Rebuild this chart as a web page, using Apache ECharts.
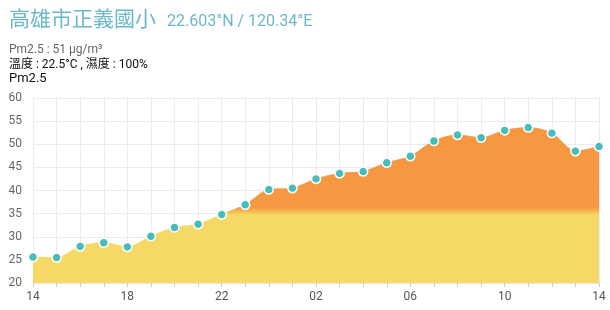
<!DOCTYPE html>
<html><head><meta charset="utf-8">
<script src="https://cdn.jsdelivr.net/npm/echarts@6/dist/echarts.min.js"></script>
<style>html,body{margin:0;padding:0;background:#fff}#c{width:610px;height:310px}</style>
</head><body><div id="c"></div>
<script>
const hours = ['14','15','16','17','18','19','20','21','22','23','00','01','02','03','04','05','06','07','08','09','10','11','12','13','14'];
const pm25 = [25.6,25.5,27.9,28.7,27.8,30.1,32.0,32.7,34.8,36.9,40.2,40.5,42.5,43.7,44.1,46.0,47.4,50.7,52.0,51.4,53.0,53.6,52.4,48.5,49.5];
const yTicks = {min:20, max:60, interval:5};
const stationName = '高雄市正義國小';
const coordText = '22.603°N / 120.34°E';
const info1 = 'Pm2.5 : 51 μg/m³';
const info2 = '溫度 : 22.5°C , 濕度 : 100%';
const threshold = 35.5;

const font = 'Roboto, "Noto Sans CJK TC", sans-serif';
const chart = echarts.init(document.getElementById('c'), null, {renderer:'canvas'});
const option = {
  animation:false,
  textStyle:{fontFamily:font},
  title:[
    {text:stationName, left:4, top:5, textStyle:{color:'#6cb8c9', fontSize:21, fontWeight:'normal', fontFamily:font}},
    {text:coordText, left:162, top:9, textStyle:{color:'#6cb8c9', fontSize:16, fontWeight:'normal', fontFamily:font}},
    {text:info1, left:4, top:39, textStyle:{color:'#666', fontSize:12, fontWeight:'normal', fontFamily:font}},
    {text:info2, left:4, top:54, textStyle:{color:'#111', fontSize:12, fontWeight:'normal', fontFamily:font}},
  ],
  grid:{left:33, right:11, top:98, bottom:27},
  xAxis:{type:'category', data:hours, boundaryGap:false,
    axisLine:{show:false},
    axisTick:{show:true, interval:0, length:4, lineStyle:{color:'#ccc'}},
    axisLabel:{interval:3, color:'#555', fontSize:12, margin:8},
    splitLine:{show:true, interval:0, lineStyle:{color:'#ebebeb'}}
  },
  yAxis:{type:'value', min:yTicks.min, max:yTicks.max, interval:yTicks.interval,
    name:'Pm2.5', nameLocation:'end', nameGap:13, nameTextStyle:{color:'#111', fontSize:13, align:'left', padding:[0,0,0,-24]},
    axisLine:{show:false}, axisTick:{show:false},
    axisLabel:{color:'#666', fontSize:12, margin:11},
    splitLine:{lineStyle:{color:'#ebebeb'}}
  },
  series:[{
    type:'line', data:pm25, smooth:0.3,
    symbol:'circle', symbolSize:9,
    itemStyle:{color:'#46bdbb', borderColor:'#fff', borderWidth:1.5},
    lineStyle:{width:1, color:'#f7973b', opacity:0.6},
    areaStyle:{color:'#f6d961', opacity:0.96},
    z:3
  }]
};
chart.setOption(option);
// Build the vertical gradient at the threshold from the y-axis scale
const yTop = chart.convertToPixel({yAxisIndex:0}, yTicks.max);
const yBot = chart.convertToPixel({yAxisIndex:0}, yTicks.min);
const yThr = chart.convertToPixel({yAxisIndex:0}, threshold);
const stop = (yThr - yTop) / (yBot - yTop);
const grad = new echarts.graphic.LinearGradient(0, yTop, 0, yBot, [
  {offset:0, color:'#f6933a'},
  {offset:Math.max(0, stop - 0.02), color:'#f6933a'},
  {offset:Math.min(1, stop + 0.02), color:'#f5d860'},
  {offset:1, color:'#f5d860'}
], true);
chart.setOption({series:[{areaStyle:{color:grad, opacity:0.96}, lineStyle:{color:grad}}]});
</script></body></html>
